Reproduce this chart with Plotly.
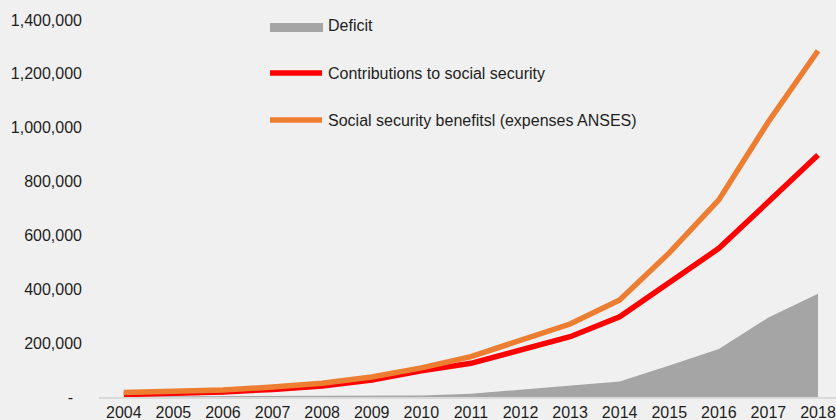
import plotly.graph_objects as go

# Annual figures, 2004-2018
years = [str(y) for y in range(2004, 2019)]
deficit = [2000, 3000, 3000, 4000, 4000, 5000, 6000, 12000, 28000, 44000,
           58000, 117000, 178000, 295000, 383000]
contributions = [9000, 13000, 19000, 28000, 41000, 63000, 97000, 125000, 175000,
                 224000, 298000, 423000, 552000, 725000, 899000]
benefits = [17000, 21000, 26000, 37000, 51000, 74000, 108000, 150000, 212000,
            271000, 360000, 535000, 732000, 1022000, 1286000]

y_ticks = [0, 200000, 400000, 600000, 800000, 1000000, 1200000, 1400000]
y_tick_text = ["-\u00a0\u00a0", "200,000", "400,000", "600,000", "800,000",
               "1,000,000", "1,200,000", "1,400,000"]

legend_names = ["Deficit", "Contributions to social security",
                "Social security benefitsl (expenses ANSES)"]

GRAY = "#A5A5A5"
RED = "#FF0000"
ORANGE = "#ED7D31"
BG = "#F0F0F0"
TXT = "#1E1E1E"
FONT = "Liberation Sans, Arial, sans-serif"

W, H = 836, 420
ML, MR, MT, MB = 99, 0, 20, 23
PW, PH = W - ML - MR, H - MT - MB


def px_x(x):
    return (x - ML) / PW


def px_y(y):
    return (H - MB - y) / PH


fig = go.Figure()
fig.add_trace(go.Scatter(x=years, y=deficit, name=legend_names[0], mode="lines",
                         line=dict(width=0, color=GRAY), fill="tozeroy",
                         fillcolor=GRAY))
fig.add_trace(go.Scatter(x=years, y=contributions, name=legend_names[1],
                         mode="lines", line=dict(width=5.5, color=RED)))
fig.add_trace(go.Scatter(x=years, y=benefits, name=legend_names[2],
                         mode="lines", line=dict(width=5.5, color=ORANGE)))

# Legend drawn as shapes + labels
shapes = [
    dict(type="rect", xref="paper", yref="paper",
         x0=px_x(270), x1=px_x(323), y0=px_y(32), y1=px_y(23),
         fillcolor=GRAY, line=dict(width=0)),
    dict(type="line", xref="paper", yref="paper",
         x0=px_x(270), x1=px_x(322), y0=px_y(73), y1=px_y(73),
         line=dict(color=RED, width=5.5)),
    dict(type="line", xref="paper", yref="paper",
         x0=px_x(270), x1=px_x(322), y0=px_y(120), y1=px_y(120),
         line=dict(color=ORANGE, width=5.5)),
]
annotations = []
for name, yy in zip(legend_names, [26, 73, 120]):
    annotations.append(dict(text=name, xref="paper", yref="paper",
                            x=px_x(326), y=px_y(yy), xanchor="left",
                            yanchor="middle", showarrow=False,
                            font=dict(size=16, color=TXT, family=FONT)))

fig.update_layout(
    width=W, height=H,
    margin=dict(l=ML, r=MR, t=MT, b=MB, pad=0),
    paper_bgcolor=BG, plot_bgcolor=BG,
    showlegend=False,
    font=dict(family=FONT, size=16, color=TXT),
    shapes=shapes, annotations=annotations,
    xaxis=dict(type="category", range=[-0.5, 14.363], showgrid=False,
               zeroline=False, showline=True, linecolor="#D9D9D9",
               linewidth=2, ticks="", automargin=False,
               tickfont=dict(size=16, color=TXT)),
    yaxis=dict(range=[0, 1400000], tickvals=y_ticks, ticktext=y_tick_text,
               showgrid=False, zeroline=False, showline=False, ticks="",
               ticklabelstandoff=16, automargin=False,
               tickfont=dict(size=16, color=TXT)),
)

fig.write_html("out.html")
